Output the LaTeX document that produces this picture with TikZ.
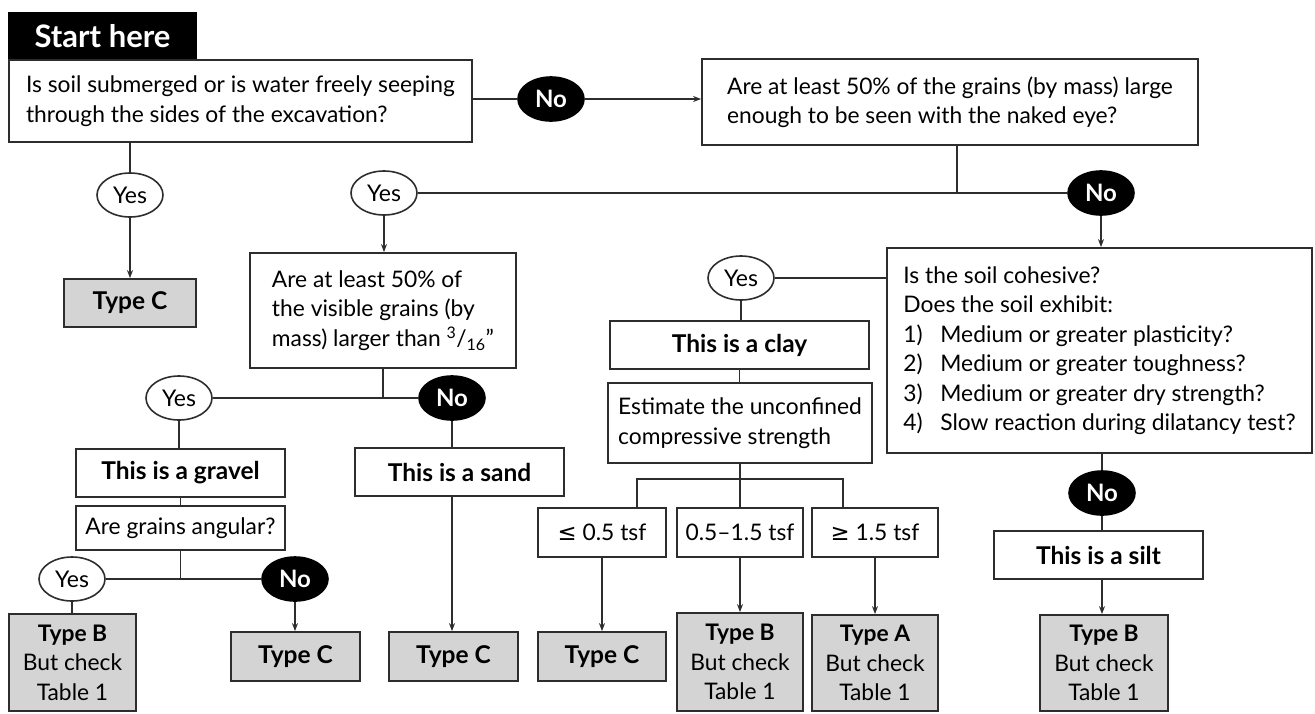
\documentclass[tikz,border=0pt]{standalone}
\usepackage{fontspec}
\setmainfont{Lato}
\newfontfamily\symfont{DejaVu Sans}
\usetikzlibrary{arrows.meta, positioning, shapes.geometric}
\definecolor{inkgray}{RGB}{45,45,45}
\definecolor{typegray}{RGB}{212,212,212}

\begin{document}
\begin{tikzpicture}[x=1pt, y=-1pt, >={Stealth[length=8pt,width=6pt]},
    line width=1.5pt, draw=inkgray,
    sz/.style 2 args={minimum width=#1, minimum height=#2},
    qbox/.style={draw=inkgray, line width=1.8pt, fill=white, inner sep=0pt, align=left, text=black, font=\fontsize{22.8}{29.5}\selectfont},
    sbox/.style={qbox, align=center, font=\bfseries\fontsize{24.5}{29.5}\selectfont},
    typebox/.style={qbox, fill=typegray, align=center},
    typec/.style={typebox, font=\bfseries\fontsize{24.5}{29.5}\selectfont},
    yesnode/.style={ellipse, draw=inkgray, line width=1.6pt, fill=white, inner sep=0pt, minimum width=66, minimum height=44, font=\fontsize{23}{24}\selectfont},
    nonode/.style={ellipse, draw=black, line width=1.6pt, fill=black, inner sep=0pt, minimum width=66, minimum height=44, text=white, font=\bfseries\fontsize{24}{24}\selectfont}]
  \useasboundingbox (0,0) rectangle (1315,713);

  % first question
  \node[draw=black, fill=black, text=white, inner sep=0pt, sz={187}{47}, font=\bfseries\fontsize{31}{32}\selectfont] (start) at (102.5,36.5) {Start here};
  \node[qbox, sz={463}{82}] (q1) at (240.5,101) {Is soil submerged or is water freely seeping\\through the sides of the excavation?};
  \node[nonode] (no1) at (551,99) {No};
  \node[qbox, sz={496}{86}] (q2) at (950,102) {Are at least 50\% of the grains (by mass) large\\enough to be seen with the naked eye?};
  \draw (no1.west) -- (no1.west -| q1.east);
  \draw[->] (no1.east) -- (no1.east -| q2.west);

  \node[yesnode] (yes1) at (130,195) {Yes};
  \node[typec, sz={132}{48}] (c1) at (130,303) {Type C};
  \draw (yes1.north) -- (yes1 |- q1.south);
  \draw[->] (yes1.south) -- (yes1 |- c1.north);

  % visible grains
  \node[yesnode] (yes2) at (384,193) {Yes};
  \node[nonode] (no2) at (1101,193) {No};
  \draw ([xshift=7pt]q2.south) -- ([xshift=7pt]q2.south |- no2);
  \draw (yes2.east) -- (no2.west);

  \node[qbox, sz={266}{115}] (q3) at (383,310.5) {Are at least 50\% of\\the visible grains (by\\mass) larger than \textsuperscript{3}/\textsubscript{16}''};
  \draw[->] (yes2.south) -- (yes2 |- q3.north);
  \node[yesnode] (yes3) at (179,398) {Yes};
  \node[nonode] (no3) at (452,398) {No};
  \draw (q3.south) -- (q3.south |- yes3);
  \draw (yes3.east) -- (no3.west);

  % gravel
  \node[sbox, sz={209}{48}] (gravel) at (180.5,473) {This is a gravel};
  \node[qbox, align=center, sz={209}{44}] (angular) at (180.5,528) {Are grains angular?};
  \draw (yes3.south) -- (yes3 |- gravel.north);
  \draw (gravel.south) -- (angular.north);
  \node[yesnode] (yes4) at (72,579) {Yes};
  \node[nonode] (no4) at (295,579) {No};
  \draw (angular.south) -- (angular.south |- yes4);
  \draw (yes4.east) -- (no4.west);
  \node[typebox, sz={127}{97}] (b1) at (72.5,662.5) {\textbf{Type B}\\But check\\Table 1};
  \node[typec, sz={129}{49}] (c2) at (295.5,656.5) {Type C};
  \draw (yes4.south) -- (yes4 |- b1.north);
  \draw[->] (no4.south) -- (no4 |- c2.north);

  % sand
  \node[sbox, sz={209}{48}] (sand) at (459.5,472) {This is a sand};
  \node[typec, sz={129}{49}] (c3) at (453.5,656.5) {Type C};
  \draw (no3.south) -- (no3 |- sand.north);
  \draw[->] (no3 |- sand.south) -- (no3 |- c3.north);

  % cohesive
  \node[qbox, sz={425}{205}] (q4) at (1099.5,350.5) {Is the soil cohesive?\\Does the soil exhibit:\\\makebox[37pt][l]{1)}Medium or greater plasticity?\\\makebox[37pt][l]{2)}Medium or greater toughness?\\\makebox[37pt][l]{3)}Medium or greater dry strength?\\\makebox[37pt][l]{4)}Slow reaction during dilatancy test?};
  \draw[->] (no2.south) -- (no2 |- q4.north);
  \node[yesnode] (yes5) at (741,278) {Yes};
  \draw (yes5.east) -- (yes5 -| q4.west);

  % clay
  \node[sbox, sz={259}{48}] (clay) at (739.5,345) {This is a clay};
  \node[qbox, sz={264}{80}] (est) at (740,423) {Estimate the unconfined\\compressive strength};
  \draw (yes5.south) -- (yes5 |- clay.north);
  \draw (clay.south) -- (clay.south |- est.north);
  \node[qbox, align=center, sz={128}{49}] (t1) at (602,532.5) {{\symfont ≤} 0.5 tsf};
  \node[qbox, align=center, sz={126}{49}] (t2) at (740,532.5) {0.5--1.5 tsf};
  \node[qbox, align=center, sz={126}{49}] (t3) at (875,532.5) {{\symfont ≥} 1.5 tsf};
  \coordinate (bl) at (637,479);
  \coordinate (br) at (843,479);
  \draw (est.south) -- (est.south |- bl);
  \draw (bl |- t1.north) -- (bl) -- (br) -- (br |- t3.north);
  \draw (t2.north) -- (t2.north |- bl);
  \node[typec, sz={128}{49}] (c4) at (602,656.5) {Type C};
  \node[typebox, sz={126}{98}] (b2) at (740,662) {\textbf{Type B}\\But check\\Table 1};
  \node[typebox, sz={126}{96}] (a1) at (875,663) {\textbf{Type A}\\But check\\Table 1};
  \draw[->] (t1.south) -- (c4.north);
  \draw[->] (t2.south) -- (b2.north);
  \draw[->] (t3.south) -- (a1.north);

  % silt
  \node[nonode] (no6) at (1102,493) {No};
  \node[sbox, sz={209}{48}] (silt) at (1098.5,555) {This is a silt};
  \node[typebox, sz={128}{96}] (b3) at (1104,663) {\textbf{Type B}\\But check\\Table 1};
  \draw (no6.north) -- (no6 |- q4.south);
  \draw (no6.south) -- (no6 |- silt.north);
  \draw[->] (no6 |- silt.south) -- (no6 |- b3.north);
\end{tikzpicture}
\end{document}
